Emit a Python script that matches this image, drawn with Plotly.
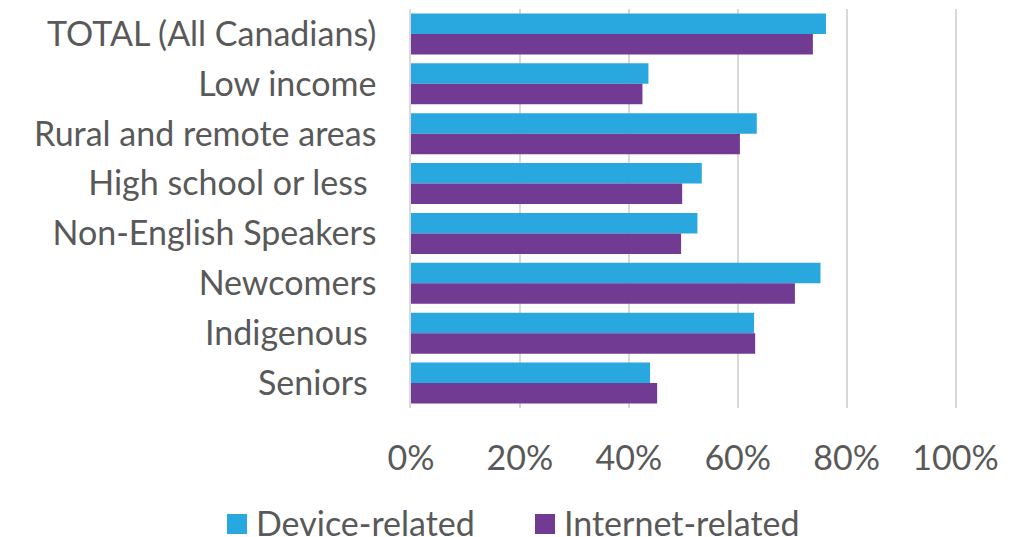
import plotly.graph_objects as go

categories = [
    "TOTAL (All Canadians)",
    "Low income",
    "Rural and remote areas",
    "High school or less ",
    "Non-English Speakers",
    "Newcomers",
    "Indigenous ",
    "Seniors ",
]
device_related = [0.762, 0.436, 0.635, 0.534, 0.526, 0.752, 0.630, 0.439]
internet_related = [0.738, 0.425, 0.604, 0.498, 0.496, 0.705, 0.632, 0.452]
x_ticks = [0, 0.2, 0.4, 0.6, 0.8, 1.0]
x_tick_labels = ["0%", "20%", "40%", "60%", "80%", "100%"]

BLUE = "#29A8E0"
PURPLE = "#713A93"
TEXT = "#595959"
GRID = "#D9D9D9"
FONT = "Lato"

W, H = 1019, 537
ML, MR, MT, MB = 411, 58, 9, 129
PW, PH = W - ML - MR, H - MT - MB

series = [("Device-related", device_related, BLUE),
          ("Internet-related", internet_related, PURPLE)]

fig = go.Figure()
for name, values, color in series:
    fig.add_trace(go.Bar(y=categories, x=values, orientation="h", name=name,
                         marker=dict(color=color, line=dict(width=0)),
                         showlegend=False))


def px_x(px):
    return (px - ML) / PW


def px_y(py):
    return (H - MB - py) / PH


# legend row below the axis: square swatch followed by the series name
legend_left = [227, 535]
swatch = 20
swatch_top = 514
text_mid = 522
for (name, _, color), left in zip(series, legend_left):
    fig.add_shape(type="rect", xref="paper", yref="paper",
                  x0=px_x(left), x1=px_x(left + swatch),
                  y0=px_y(swatch_top + swatch), y1=px_y(swatch_top),
                  fillcolor=color, line=dict(width=0))
    fig.add_annotation(text=name, xref="paper", yref="paper",
                       x=px_x(left + swatch + 8), y=px_y(text_mid),
                       xanchor="left", yanchor="middle", showarrow=False,
                       height=30, valign="middle", borderpad=0,
                       font=dict(family=FONT, size=34, color=TEXT))

fig.update_layout(
    width=W, height=H,
    margin=dict(l=ML, r=MR, t=MT, b=MB),
    paper_bgcolor="white", plot_bgcolor="white",
    barmode="group", bargap=0.18, bargroupgap=0,
    font=dict(family=FONT, size=34, color=TEXT),
    showlegend=False,
)
fig.update_xaxes(range=[0, 1.01], tickvals=x_ticks, ticktext=x_tick_labels,
                 showgrid=True, gridcolor=GRID, gridwidth=1.5,
                 zeroline=False, showline=False,
                 ticks="outside", ticklen=20, tickcolor="rgba(0,0,0,0)")
fig.update_yaxes(autorange="reversed", showgrid=False, zeroline=False,
                 showline=True, linecolor=GRID, linewidth=1.5,
                 ticks="outside", ticklen=26, tickcolor="rgba(0,0,0,0)")

fig.write_html("out.html")
